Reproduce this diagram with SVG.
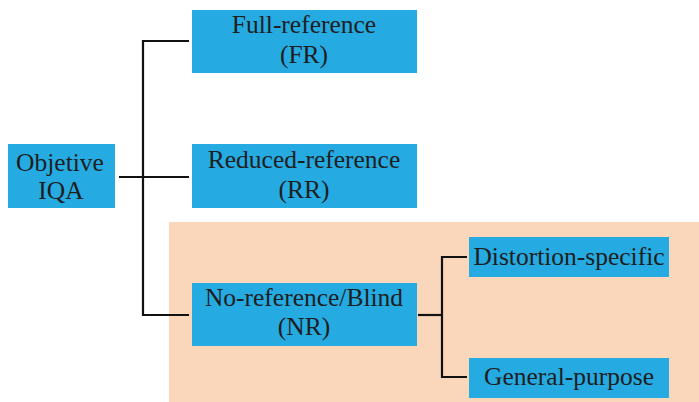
<svg xmlns="http://www.w3.org/2000/svg" width="699" height="402" viewBox="0 0 699 402">
  <style>
    .box { fill: #25aae1; }
    .label { font-family: "Liberation Serif", "Times New Roman", serif; font-size: 25.5px; fill: #1e1e1e; text-anchor: middle; }
    .link { fill: none; stroke: #111; stroke-width: 2.2; }
  </style>
  <rect width="699" height="402" fill="#ffffff"/>
  <!-- no-reference region -->
  <rect id="nr-region" x="169" y="222" width="530" height="180" fill="#fad6bb"/>

  <g id="connectors">
    <path class="link" d="M189 41 H143 V315 H189"/>
    <path class="link" d="M119 177 H189"/>
    <path class="link" d="M418 315 H442"/>
    <path class="link" d="M467 257 H442 V377 H467"/>
  </g>

  <g id="objective-iqa">
    <rect class="box" x="8" y="144" width="107" height="64"/>
    <text class="label" x="60" y="171">Objetive</text>
    <text class="label" x="61" y="199">IQA</text>
  </g>
  <g id="full-reference">
    <rect class="box" x="192" y="10" width="225" height="63"/>
    <text class="label" x="304" y="33">Full-reference</text>
    <text class="label" x="304" y="63">(FR)</text>
  </g>
  <g id="reduced-reference">
    <rect class="box" x="192" y="144" width="225" height="64"/>
    <text class="label" x="304" y="168">Reduced-reference</text>
    <text class="label" x="304" y="198">(RR)</text>
  </g>
  <g id="no-reference">
    <rect class="box" x="192" y="283" width="225" height="63"/>
    <text class="label" x="304" y="306">No-reference/Blind</text>
    <text class="label" x="304" y="335">(NR)</text>
  </g>
  <g id="distortion-specific">
    <rect class="box" x="469" y="237" width="200" height="40"/>
    <text class="label" x="569" y="265">Distortion-specific</text>
  </g>
  <g id="general-purpose">
    <rect class="box" x="469" y="358" width="200" height="40"/>
    <text class="label" x="569" y="385">General-purpose</text>
  </g>
</svg>
